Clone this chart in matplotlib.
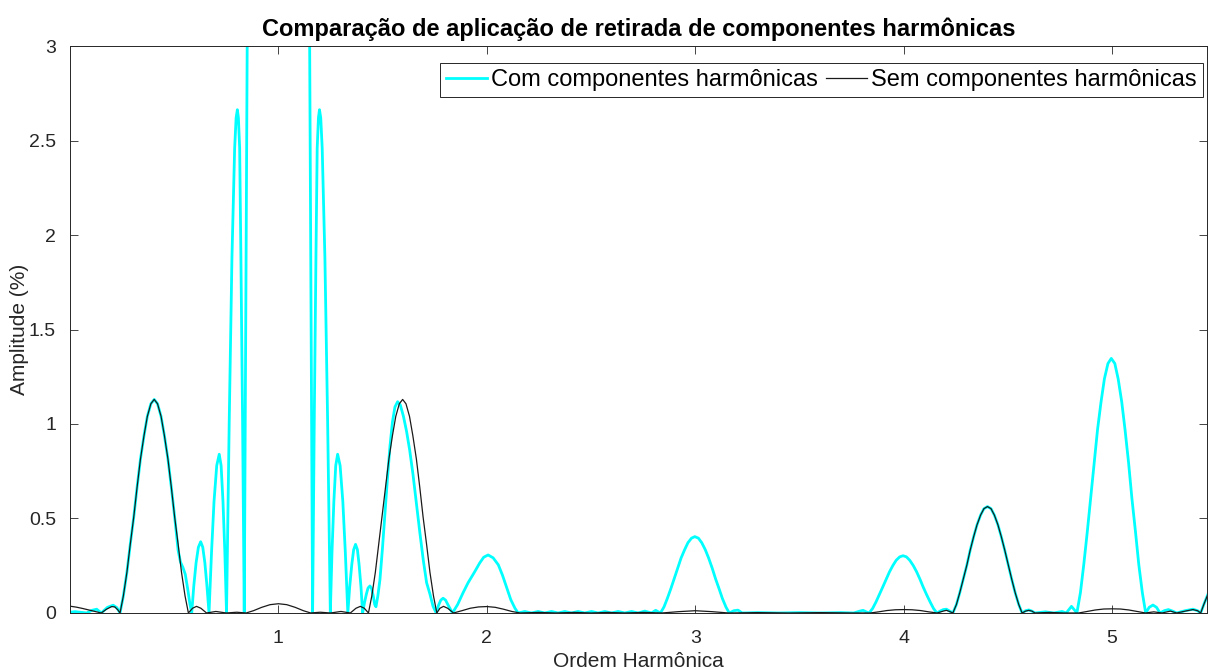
import numpy as np
import matplotlib.pyplot as plt

plt.rcParams['font.family'] = ['Liberation Sans', 'DejaVu Sans']

# espectro com as componentes harmonicas (ordem harmonica x amplitude %)
com_x = [0.000, 0.025, 0.050, 0.080, 0.105, 0.128, 0.150, 0.180, 0.207, 0.225, 0.240,
         0.256, 0.273, 0.289, 0.306, 0.322, 0.338, 0.355, 0.371, 0.388, 0.404,
         0.420, 0.437, 0.453, 0.470, 0.486, 0.502, 0.519, 0.530, 0.542, 0.553, 0.565, 0.575, 0.584,
         0.594, 0.605, 0.616, 0.627, 0.637, 0.647, 0.657, 0.667,
         0.679, 0.691, 0.704, 0.716, 0.725, 0.734, 0.743, 0.751,
         0.764, 0.777, 0.790, 0.797, 0.803, 0.808, 0.814, 0.820, 0.828, 0.836,
         0.852, 0.900, 1.000, 1.100, 1.148, 1.164,
         1.172, 1.180, 1.186, 1.192, 1.197, 1.203, 1.210, 1.223, 1.236, 1.249,
         1.257, 1.266, 1.275, 1.284, 1.296, 1.309, 1.321, 1.333,
         1.342, 1.352, 1.361, 1.370, 1.379, 1.387, 1.396, 1.404,
         1.413, 1.422, 1.430, 1.439, 1.447, 1.455, 1.462, 1.468,
         1.477, 1.487, 1.499, 1.511, 1.523, 1.535, 1.547, 1.559, 1.572,
         1.585, 1.600, 1.615, 1.630, 1.646, 1.662, 1.678, 1.695, 1.711, 1.727, 1.742, 1.757,
         1.768, 1.779, 1.790, 1.802, 1.815, 1.835,
         1.860, 1.885, 1.910, 1.940, 1.966, 1.985, 2.006, 2.030, 2.055, 2.075, 2.095, 2.115, 2.135, 2.150,
         2.182, 2.214, 2.246, 2.278, 2.310, 2.342, 2.374, 2.406, 2.438, 2.470, 2.502, 2.534,
         2.566, 2.598, 2.630, 2.662, 2.694, 2.726, 2.758, 2.790, 2.810, 2.833,
         2.850, 2.866, 2.883, 2.899, 2.916, 2.932, 2.949, 2.965, 2.982, 2.998,
         3.015, 3.031, 3.048, 3.064, 3.081, 3.097, 3.114, 3.130, 3.147, 3.163,
         3.185, 3.205, 3.225, 3.300, 3.400, 3.500, 3.600, 3.700, 3.760, 3.790, 3.805, 3.820, 3.834,
         3.851, 3.867, 3.883, 3.899, 3.916, 3.932, 3.948, 3.964, 3.981, 3.997,
         4.013, 4.029, 4.046, 4.062, 4.078, 4.094, 4.110, 4.127, 4.143, 4.159,
         4.175, 4.190, 4.205, 4.220, 4.236,
         4.253, 4.269, 4.286, 4.303, 4.319, 4.336, 4.352, 4.369, 4.385, 4.402,
         4.419, 4.435, 4.452, 4.468, 4.485, 4.502, 4.518, 4.535, 4.552, 4.568,
         4.585, 4.600, 4.615, 4.630, 4.680, 4.720, 4.760, 4.780, 4.805, 4.831,
         4.848, 4.864, 4.881, 4.897, 4.914, 4.930, 4.947, 4.963, 4.980, 4.996,
         5.013, 5.029, 5.046, 5.062, 5.079, 5.095, 5.112, 5.128, 5.145, 5.161,
         5.178, 5.196, 5.213, 5.230, 5.250, 5.270, 5.290, 5.310, 5.350, 5.388, 5.410, 5.425, 5.440, 5.460]
com_y = [0.004, 0.007, 0.004, 0.000, 0.014, 0.020, 0.000, 0.030, 0.041, 0.028, 0.000,
         0.090, 0.215, 0.362, 0.509, 0.667, 0.814, 0.938, 1.040, 1.107, 1.130,
         1.107, 1.040, 0.938, 0.814, 0.667, 0.509, 0.330, 0.270, 0.240, 0.205, 0.125, 0.050, 0.000,
         0.144, 0.266, 0.348, 0.377, 0.348, 0.266, 0.144, 0.000,
         0.320, 0.590, 0.780, 0.840, 0.780, 0.590, 0.320, 0.000,
         1.020, 1.880, 2.460, 2.620, 2.663, 2.620, 2.460, 1.880, 1.020, 0.000,
         3.400, 20.00, 30.00, 20.00, 3.400, 0.000,
         1.020, 1.880, 2.460, 2.620, 2.663, 2.620, 2.460, 1.880, 1.020, 0.000,
         0.320, 0.590, 0.780, 0.840, 0.780, 0.590, 0.320, 0.000,
         0.139, 0.256, 0.335, 0.363, 0.335, 0.256, 0.139, 0.000,
         0.055, 0.100, 0.132, 0.143, 0.130, 0.090, 0.045, 0.033,
         0.090, 0.175, 0.340, 0.527, 0.710, 0.880, 1.010, 1.090, 1.118,
         1.100, 1.040, 0.960, 0.860, 0.730, 0.580, 0.430, 0.280, 0.160, 0.100, 0.035, 0.000,
         0.040, 0.068, 0.078, 0.068, 0.040, 0.000,
         0.045, 0.105, 0.160, 0.215, 0.265, 0.295, 0.307, 0.292, 0.255, 0.200, 0.135, 0.070, 0.025, 0.000,
         0.008, 0.000, 0.008, 0.000, 0.008, 0.000, 0.008, 0.000, 0.008, 0.000, 0.008, 0.000,
         0.008, 0.000, 0.008, 0.000, 0.008, 0.000, 0.010, 0.000, 0.014, 0.000,
         0.032, 0.077, 0.129, 0.182, 0.238, 0.291, 0.335, 0.372, 0.396, 0.404,
         0.396, 0.372, 0.335, 0.291, 0.238, 0.182, 0.129, 0.077, 0.032, 0.000,
         0.012, 0.015, 0.000, 0.002, 0.000, 0.002, 0.000, 0.002, 0.000, 0.010, 0.014, 0.006, 0.000,
         0.024, 0.058, 0.097, 0.136, 0.179, 0.218, 0.251, 0.279, 0.297, 0.303,
         0.297, 0.279, 0.251, 0.218, 0.179, 0.136, 0.097, 0.058, 0.024, 0.000,
         0.010, 0.018, 0.020, 0.010, 0.000,
         0.045, 0.107, 0.180, 0.253, 0.332, 0.405, 0.467, 0.518, 0.552, 0.563,
         0.552, 0.518, 0.467, 0.405, 0.332, 0.253, 0.180, 0.107, 0.045, 0.000,
         0.012, 0.016, 0.010, 0.000, 0.006, 0.000, 0.008, 0.000, 0.035, 0.000,
         0.108, 0.256, 0.431, 0.606, 0.795, 0.970, 1.118, 1.239, 1.320, 1.347,
         1.320, 1.239, 1.118, 0.970, 0.795, 0.606, 0.431, 0.256, 0.108, 0.000,
         0.030, 0.042, 0.030, 0.000, 0.012, 0.018, 0.010, 0.000, 0.012, 0.020, 0.012, 0.000, 0.045, 0.100]

# espectro sem as componentes harmonicas
sem_x = [0.000, 0.030, 0.060, 0.090, 0.120, 0.150, 0.175, 0.200, 0.215, 0.230, 0.240,
         0.256, 0.273, 0.289, 0.306, 0.322, 0.338, 0.355, 0.371, 0.388, 0.404,
         0.420, 0.437, 0.453, 0.470, 0.486, 0.502, 0.519, 0.535, 0.552, 0.568,
         0.588, 0.607, 0.628, 0.655, 0.700, 0.750, 0.800, 0.845,
         0.880, 0.920, 0.960, 1.000, 1.040, 1.080, 1.120, 1.155,
         1.200, 1.250, 1.300, 1.345, 1.372, 1.393, 1.412, 1.432,
         1.448, 1.465, 1.481, 1.497, 1.514, 1.530, 1.547, 1.563, 1.580, 1.596,
         1.612, 1.629, 1.645, 1.662, 1.678, 1.694, 1.711, 1.727, 1.744, 1.760,
         1.775, 1.792, 1.812, 1.840, 1.880, 1.920, 1.960, 2.000, 2.040, 2.080, 2.120, 2.160,
         2.250, 2.330, 2.420, 2.500, 2.580, 2.660, 2.750, 2.840, 2.920, 3.000, 3.080, 3.160,
         3.300, 3.450, 3.600, 3.750, 3.840,
         3.880, 3.920, 3.960, 4.000, 4.040, 4.080, 4.120, 4.160, 4.190, 4.205, 4.220, 4.236,
         4.253, 4.269, 4.286, 4.303, 4.319, 4.336, 4.352, 4.369, 4.385, 4.402,
         4.419, 4.435, 4.452, 4.468, 4.485, 4.502, 4.518, 4.535, 4.552, 4.568,
         4.585, 4.600, 4.615, 4.630, 4.700, 4.770, 4.840,
         4.880, 4.920, 4.960, 5.000, 5.040, 5.080, 5.120, 5.160,
         5.200, 5.240, 5.280, 5.310, 5.360, 5.388, 5.410, 5.425, 5.440, 5.460]
sem_y = [0.036, 0.031, 0.024, 0.016, 0.008, 0.000, 0.020, 0.034, 0.032, 0.016, 0.000,
         0.090, 0.215, 0.362, 0.509, 0.667, 0.814, 0.938, 1.040, 1.107, 1.130,
         1.107, 1.040, 0.938, 0.814, 0.667, 0.509, 0.362, 0.215, 0.090, 0.000,
         0.025, 0.035, 0.025, 0.000, 0.008, 0.000, 0.004, 0.000,
         0.012, 0.030, 0.044, 0.049, 0.044, 0.030, 0.012, 0.000,
         0.004, 0.000, 0.008, 0.000, 0.025, 0.035, 0.025, 0.000,
         0.090, 0.215, 0.362, 0.509, 0.667, 0.814, 0.938, 1.040, 1.107, 1.130,
         1.107, 1.040, 0.938, 0.814, 0.667, 0.509, 0.362, 0.215, 0.090, 0.000,
         0.025, 0.035, 0.025, 0.000, 0.012, 0.025, 0.032, 0.034, 0.030, 0.020, 0.008, 0.000,
         0.003, 0.000, 0.003, 0.000, 0.003, 0.000, 0.003, 0.000, 0.007, 0.012, 0.007, 0.000,
         0.002, 0.000, 0.002, 0.000, 0.000,
         0.006, 0.013, 0.017, 0.018, 0.017, 0.013, 0.006, 0.000, 0.010, 0.014, 0.008, 0.000,
         0.045, 0.107, 0.180, 0.253, 0.332, 0.405, 0.467, 0.518, 0.552, 0.563,
         0.552, 0.518, 0.467, 0.405, 0.332, 0.253, 0.180, 0.107, 0.045, 0.000,
         0.010, 0.014, 0.010, 0.000, 0.003, 0.000, 0.000,
         0.008, 0.016, 0.021, 0.022, 0.021, 0.016, 0.008, 0.000,
         0.006, 0.000, 0.010, 0.000, 0.012, 0.018, 0.012, 0.000, 0.045, 0.100]

x_ticks = [1, 2, 3, 4, 5]
y_ticks = [0, 0.5, 1, 1.5, 2, 2.5, 3]
y_tick_labels = ['0', '0.5', '1', '1.5', '2', '2.5', '3']

fig = plt.figure(figsize=(12.09, 6.70), dpi=100)
ax = fig.add_axes([0.0579, 0.0851, 0.9404, 0.8462])

ax.plot(com_x, com_y, color='#00ffff', linewidth=2.0, label='Com componentes harmônicas')
ax.plot(sem_x, sem_y, color='#1a1a1a', linewidth=0.9, label='Sem componentes harmônicas')

ax.set_xlim(0, 5.455)
ax.set_ylim(0, 3)
ax.set_xticks(x_ticks)
ax.set_xticklabels([str(t) for t in x_ticks])
ax.set_yticks(y_ticks)
ax.set_yticklabels(y_tick_labels)

ax.tick_params(direction='in', top=True, right=True, length=6, width=0.6,
               colors='#262626', labelsize=14)
ax.tick_params(axis='x', pad=12)
ax.tick_params(axis='y', pad=10)
for s in ax.spines.values():
    s.set_color('#262626')
    s.set_linewidth(0.7)

ax.set_title('Comparação de aplicação de retirada de componentes harmônicas',
             fontsize=17, fontweight='bold', pad=7)
ax.set_xlabel('Ordem Harmônica', fontsize=15, color='#262626', labelpad=4)
ax.set_ylabel('Amplitude (%)', fontsize=15, color='#262626', labelpad=0)

leg = ax.legend(loc='upper right', bbox_to_anchor=(0.9965, 0.970), ncol=2,
                fontsize=17, frameon=True, fancybox=False, framealpha=1,
                borderpad=0.25, handlelength=1.74, handletextpad=0.17,
                columnspacing=0.34, borderaxespad=0)
leg.get_frame().set_edgecolor('#262626')
leg.get_frame().set_linewidth(0.7)

fig.savefig('out.png', dpi=100)
